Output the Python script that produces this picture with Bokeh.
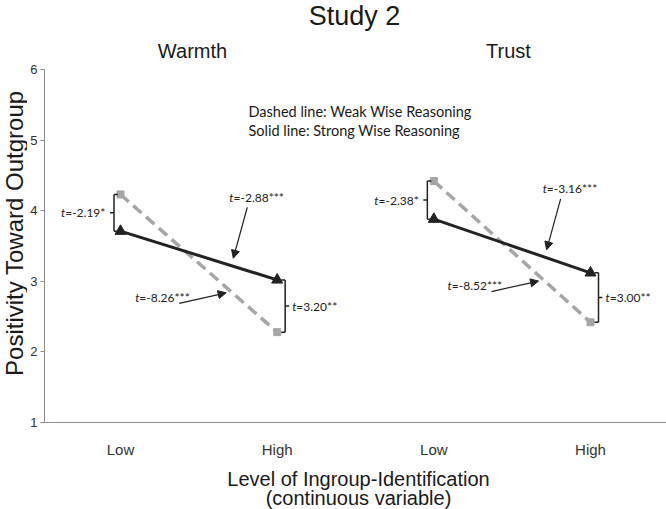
import math
from bokeh.plotting import figure
from bokeh.layouts import column, row
from bokeh.models import Range1d, FixedTicker, Label, Arrow, NormalHead
from bokeh.core.properties import value
from bokeh.embed import file_html
from bokeh.resources import INLINE

# ---------------- data ----------------
panels = ["Warmth", "Trust"]
tick_labels = ["Low", "High", "Low", "High"]
y_ticks = [1, 2, 3, 4, 5, 6]
weak_warmth = [4.23, 2.28]      # dashed: weak wise reasoning
strong_warmth = [3.71, 3.02]    # solid: strong wise reasoning
weak_trust = [4.42, 2.42]
strong_trust = [3.88, 3.12]
t_low_gap = ["-2.19*", "-2.38*"]
t_high_gap = ["3.20**", "3.00**"]
t_strong_slope = ["-2.88***", "-3.16***"]
t_weak_slope = ["-8.26***", "-8.52***"]

# ---------------- layout (window pixels) ----------------
W, H = 666, 509
HEAD_H = 61          # header strip height
FOOT_T = 460         # footer strip top
YT_W = 27            # y-title strip width
FL, FT, FH = 42, 69, 353
FW = W - FL
XS = 156.67
X0 = 1 - (118 - FL) / XS
YS = FH / 5.0


def X(px):
    return X0 + (px - FL) / XS


def Y(py):
    return 6 - (py - FT) / YS


def DX(px):
    return px / XS


def DY(py):
    return -py / YS


FONT = "Liberation Sans"
FONT2 = "Lato"
DARK = "#222222"
GRAY = "#a6a6a6"
AXIS = "#8c8c8c"
TXT = "#1a1a1a"


def blank(width, height, xr, yr):
    f = figure(width=width, height=height, x_range=Range1d(*xr), y_range=Range1d(*yr),
               x_axis_type=None, y_axis_type=None, output_backend="svg",
               toolbar_location=None, min_border_left=0, min_border_right=0,
               min_border_top=0, min_border_bottom=0)
    f.xgrid.visible = False
    f.ygrid.visible = False
    f.outline_line_color = None
    return f


# ---------- header ----------
head = blank(W, HEAD_H, (0, W), (HEAD_H, 0))
head.add_layout(Label(x=354, y=15, text="Study 2", text_align="center",
                      text_baseline="middle", text_font=FONT, text_font_size="27px",
                      text_color=TXT))
for name, cx in zip(panels, [192, 508]):
    head.add_layout(Label(x=cx, y=50, text=name, text_align="center",
                          text_baseline="middle", text_font=FONT,
                          text_font_size="20px", text_color=TXT))

# ---------- y title strip ----------
ytf = blank(YT_W, FOOT_T - HEAD_H, (0, YT_W), (FOOT_T, HEAD_H))
ytf.add_layout(Label(x=13.6, y=246, angle=math.pi / 2,
                     text="Positivity Toward Outgroup", text_align="center",
                     text_baseline="middle", text_font=FONT, text_font_size="24px",
                     text_color=TXT))

# ---------- main plot ----------
p = figure(frame_width=FW, frame_height=FH,
           min_border_left=FL - YT_W, min_border_top=FT - HEAD_H, min_border_right=0,
           min_border_bottom=FOOT_T - FT - FH,
           x_range=Range1d(X0, X0 + FW / XS), y_range=Range1d(1, 6),
           output_backend="svg", toolbar_location=None)
p.xgrid.visible = False
p.ygrid.visible = False
p.outline_line_color = None

p.yaxis.ticker = FixedTicker(ticks=y_ticks)
p.yaxis.major_label_text_font = FONT
p.yaxis.major_label_text_font_size = "13px"
p.yaxis.major_label_text_color = "#333333"
p.yaxis.axis_line_color = AXIS
p.yaxis.major_tick_line_color = AXIS
p.yaxis.major_tick_out = 4
p.yaxis.major_tick_in = 0
p.yaxis.minor_tick_line_color = None
p.yaxis.major_label_standoff = 3

p.xaxis.ticker = FixedTicker(ticks=[i + 1 for i in range(len(tick_labels))])
p.xaxis.major_label_overrides = {i + 1: lab for i, lab in enumerate(tick_labels)}
p.xaxis.major_label_text_font = FONT
p.xaxis.major_label_text_font_size = "15px"
p.xaxis.major_label_text_color = "#333333"
p.xaxis.axis_line_color = AXIS
p.xaxis.major_tick_line_color = None
p.xaxis.major_tick_out = 0
p.xaxis.minor_tick_line_color = None
p.xaxis.major_label_standoff = 18


def tlabel(x, y, rest):
    p.text([x], [y], text=["t"], text_font=value(FONT2), text_font_size="12px",
           text_font_style="italic", text_align="left", text_baseline="middle",
           text_color=DARK)
    p.text([x + DX(4.2)], [y], text=["=" + rest], text_font=value(FONT2),
           text_font_size="12px", text_align="left", text_baseline="middle",
           text_color=DARK)


def along(xs, ys, f):
    return xs[0] + f * (xs[1] - xs[0]), ys[0] + f * (ys[1] - ys[0])


series = [(weak_warmth, strong_warmth), (weak_trust, strong_trust)]
for i, (wk, st) in enumerate(series):
    xs = [2 * i + 1, 2 * i + 2]
    p.line(xs, wk, line_color=GRAY, line_width=3.5, line_dash="11 6")
    p.scatter(xs, wk, marker="square", size=7, fill_color=GRAY, line_color=GRAY)
    p.line(xs, st, line_color=DARK, line_width=3)
    p.scatter(xs, st, marker="triangle", size=11, fill_color=DARK, line_color=DARK)

    # bracket at Low
    bx = xs[0] + DX(-6.5)
    top, bot = max(wk[0], st[0]), min(wk[0], st[0])
    mid = (top + bot) / 2
    p.segment(x0=[bx, bx, bx, bx], y0=[bot, top, bot, mid],
              x1=[bx, bx + DX(4), bx + DX(4), bx - DX(4)], y1=[top, top, bot, mid],
              line_color=DARK, line_width=1.5)
    tlabel(bx - DX(53), mid, t_low_gap[i])

    # bracket at High
    bx = xs[1] + DX(8)
    top, bot = max(wk[1], st[1]), min(wk[1], st[1])
    mid = (top + bot) / 2
    p.segment(x0=[bx, bx, bx, bx], y0=[bot, top, bot, mid],
              x1=[bx, bx - DX(4), bx - DX(4), bx + DX(4)], y1=[top, top, bot, mid],
              line_color=DARK, line_width=1.5)
    tlabel(bx + DX(7), mid, t_high_gap[i])

    # arrow to strong (solid) line
    ax, ay = along(xs, st, 0.72)
    p.add_layout(Arrow(end=NormalHead(size=8, line_color=DARK, fill_color=DARK),
                       x_start=ax + DX(14), y_start=ay + DY(-59),
                       x_end=ax, y_end=ay + DY(-8),
                       line_color=DARK, line_width=1.2))
    tlabel(ax + DX(-4), ay + DY(-69), t_strong_slope[i])

    # arrow to weak (dashed) line
    f = 0.70 if i == 0 else 0.694
    ax, ay = along(xs, wk, f)
    p.add_layout(Arrow(end=NormalHead(size=8, line_color=DARK, fill_color=DARK),
                       x_start=ax + DX(-51), y_start=ay + DY(12.5),
                       x_end=ax + DX(-4), y_end=ay + DY(2),
                       line_color=DARK, line_width=1.2))
    tlabel(ax + DX(-95), ay + DY(6.7), t_weak_slope[i])

p.add_layout(Label(x=X(246), y=Y(111), text="Dashed line: Weak Wise Reasoning",
                   text_align="left", text_baseline="middle", text_font=FONT2,
                   text_font_size="14.5px", text_color=TXT))
p.add_layout(Label(x=X(246), y=Y(130), text="Solid line: Strong Wise Reasoning",
                   text_align="left", text_baseline="middle", text_font=FONT2,
                   text_font_size="14.5px", text_color=TXT))

# ---------- footer ----------
foot = blank(W, H - FOOT_T, (0, W), (H, FOOT_T))
foot.add_layout(Label(x=358, y=478, text="Level of Ingroup-Identification",
                      text_align="center", text_baseline="middle", text_font=FONT,
                      text_font_size="20px", text_color=TXT))
foot.add_layout(Label(x=358, y=497, text="(continuous variable)",
                      text_align="center", text_baseline="middle", text_font=FONT,
                      text_font_size="20px", text_color=TXT))

layout = column(head, row(ytf, p), foot)
open("out.html", "w").write(file_html(layout, INLINE))
